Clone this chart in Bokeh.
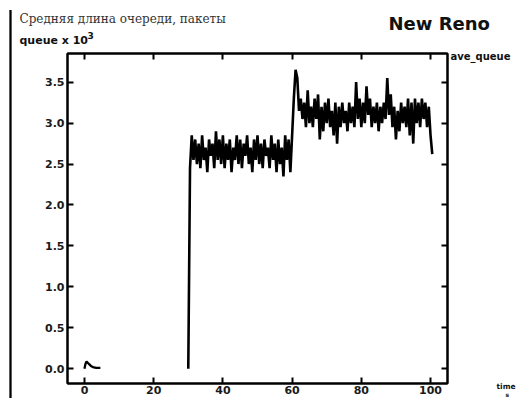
import numpy as np
from bokeh.plotting import figure
from bokeh.models import Label, LinearAxis, FixedTicker, Range1d
from bokeh.embed import file_html
from bokeh.resources import INLINE

title_text = "Средняя длина очереди, пакеты"
ylabel_text = "queue x 10"
ylabel_exp = "3"
chart_name = "New Reno"
series_name = "ave_queue"
xlabel_text = "time"
xlabel_unit = "s"

x_ticks = [0, 20, 40, 60, 80, 100]
y_ticks = [0.0, 0.5, 1.0, 1.5, 2.0, 2.5, 3.0, 3.5]
y_tick_labels = ["0.0", "0.5", "1.0", "1.5", "2.0", "2.5", "3.0", "3.5"]

# early start-up blip (time, s ; queue x 10^3)
early_time = [0.0, 0.3, 0.6, 1.0, 1.5, 2.0, 2.5, 3.0, 3.5, 4.0, 4.6]
early_queue = [0.0, 0.06, 0.09, 0.07, 0.05, 0.03, 0.02, 0.015, 0.01, 0.01, 0.01]

# main series sampled every 0.5 s starting at t = 30 s
main_start = 30.0
main_step = 0.5
queue_first_phase = [
    0.00, 2.45, 2.85, 2.55, 2.80, 2.50, 2.75, 2.45, 2.85, 2.55,
    2.70, 2.40, 2.80, 2.60, 2.75, 2.45, 2.90, 2.55, 2.80, 2.50,
    2.85, 2.45, 2.75, 2.55, 2.80, 2.40, 2.70, 2.55, 2.85, 2.50,
    2.80, 2.45, 2.75, 2.60, 2.85, 2.50, 2.70, 2.40, 2.80, 2.55,
    2.85, 2.50, 2.75, 2.45, 2.80, 2.60, 2.70, 2.45, 2.85, 2.55,
    2.75, 2.40, 2.80, 2.50, 2.70, 2.35, 2.85, 2.55, 2.80, 2.40,
    2.85,
]
queue_second_phase = [
    3.30, 3.65, 3.55, 3.15, 3.30, 3.05, 3.25, 2.95, 3.40, 3.00,
    3.20, 2.95, 3.30, 3.05, 3.35, 2.80, 3.20, 2.90, 3.25, 3.00,
    3.30, 2.95, 3.15, 2.85, 3.25, 2.75, 3.20, 2.95, 3.25, 3.00,
    3.15, 2.90, 3.25, 3.00, 3.20, 2.95, 3.50, 3.05, 3.30, 2.95,
    3.25, 3.00, 3.45, 3.10, 3.30, 2.95, 3.20, 3.00, 3.25, 2.90,
    3.20, 3.00, 3.25, 3.05, 3.55, 3.10, 3.35, 2.95, 3.20, 2.80,
    3.15, 2.90, 3.25, 3.00, 3.20, 2.95, 3.30, 2.85, 3.25, 2.75,
    3.30, 3.00, 3.25, 2.95, 3.30, 3.05, 3.25, 2.95, 3.20, 2.85,
    2.62,
]
main_queue = queue_first_phase + queue_second_phase
main_time = [main_start + main_step * i for i in range(len(main_queue))]

W, H = 516, 398
p = figure(width=W, height=H, output_backend="svg", toolbar_location=None,
           x_range=Range1d(-4.9, 104.9), y_range=Range1d(-0.18, 3.85),
           min_border_left=67, min_border_right=69, min_border_top=53,
           min_border_bottom=15, x_axis_location=None, y_axis_location=None)
p.grid.visible = False
p.outline_line_color = "black"
p.outline_line_width = 2
p.background_fill_color = "white"
p.border_fill_color = "white"

lab_font = "DejaVu Sans"

def mk_axis(ticks, labels, show_labels):
    ax = LinearAxis(ticker=FixedTicker(ticks=ticks))
    ax.axis_line_color = "black"
    ax.axis_line_width = 2
    ax.major_tick_in = 6
    ax.major_tick_out = 0
    ax.major_tick_line_width = 2
    ax.minor_tick_line_color = None
    ax.major_label_text_font = lab_font
    ax.major_label_text_font_style = "bold"
    ax.major_label_text_font_size = "11px"
    ax.major_label_text_color = "#1a1a1a"
    ax.major_label_standoff = 3
    if labels is not None:
        ax.major_label_overrides = labels
    if not show_labels:
        ax.major_label_text_color = None
    return ax

p.add_layout(mk_axis(y_ticks, {t: l for t, l in zip(y_ticks, y_tick_labels)}, True), "left")
p.add_layout(mk_axis(x_ticks, None, True), "below")
p.add_layout(mk_axis(y_ticks, None, False), "right")
p.add_layout(mk_axis(x_ticks, None, False), "above")
for ax in p.right + p.above:
    ax.major_label_text_font_size = "0px"
    ax.major_label_standoff = 0
p.below[0].major_label_standoff = 2

p.line(early_time, early_queue, line_color="black", line_width=2.3)
p.line(main_time, main_queue, line_color="black", line_width=2.6)

def lab(x, y, text, size, place, font=lab_font, style="bold", color="#111111"):
    p.add_layout(Label(x=x, y=y, x_units="canvas", y_units="canvas", text=text,
                       text_font=font, text_font_style=style, text_font_size=size,
                       text_color=color, text_align="left", text_baseline="middle"),
                 place)

lab(19, 18, title_text, "12px", "above", font="DejaVu Serif", style="normal", color="#333333")
lab(19, 40, ylabel_text, "11px", "above")
lab(87, 35, ylabel_exp, "9px", "left")
lab(388, 23, chart_name, "18px", "above")
lab(450, 56, series_name, "10px", "right")
lab(496, 386, xlabel_text, "7.5px", "left")
lab(505, 394, xlabel_unit, "6px", "right")

# thin vertical rule at the left edge of the picture (padding: left, right, top, bottom)
p.add_layout(Label(x=10, y=204, x_units="canvas", y_units="canvas", text=" ",
                   text_font_size="1px", text_align="center", text_baseline="middle",
                   padding=(1, 1, 194, 194), background_fill_color="black",
                   background_fill_alpha=1.0), "left")

open("out.html", "w").write(file_html(p, INLINE))
